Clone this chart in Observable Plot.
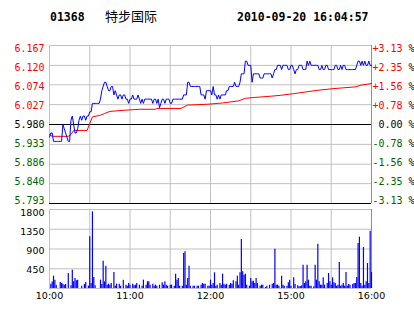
<!DOCTYPE html>
<html><head><meta charset="utf-8">
<script src="https://cdn.jsdelivr.net/npm/d3@7"></script>
<script src="https://cdn.jsdelivr.net/npm/@observablehq/plot@0.6"></script>
<style>
body{margin:0;background:#fff;}
#wrap{position:relative;width:414px;height:314px;overflow:hidden;background:#fff;}
.t{position:absolute;white-space:nowrap;color:#000;}
#code,#stamp{top:11px;font:bold 11.5px/12px "DejaVu Sans Mono",monospace;}
#code{left:50px;}
#stamp{left:237px;}
#name{left:105px;top:9px;font:13px/13px "Noto Sans CJK SC",sans-serif;}
svg{position:absolute;left:0;}
</style>
</head><body><div id="wrap">
<div class="t" id="code"></div><div class="t" id="name"></div><div class="t" id="stamp"></div>
</div>
<script>
const stockCode = "01368";
const stockName = "特步国际";
const stamp = "2010-09-20 16:04:57";
const prevClose = 5.98;
const priceTickLabels = ["5.793","5.840","5.886","5.933","5.980","6.027","6.074","6.120","6.167"];
const pctTickLabels = ["-3.13","-2.35","-1.56","-0.78","0.00","+0.78","+1.56","+2.35","+3.13"];
const volTickLabels = [450, 900, 1350, 1800];
const timeTickLabels = ["10:00","11:00","12:00","15:00","16:00"];
const timeTickMinutes = [0, 60, 120, 180, 240];
const gridMinutes = [0, 30, 60, 90, 120, 150, 180, 210, 240];

// last price per minute (minute 0..240)
const prices = [
5.95,5.96,5.96,5.94,5.94,5.94,5.94,5.94,5.94,5.94,
5.98,5.97,5.96,5.95,5.94,5.94,5.99,6.00,5.98,5.96,
5.96,5.97,5.99,6.00,5.99,6.00,6.00,5.99,6.00,6.00,
6.01,6.01,6.03,6.03,6.03,6.03,6.03,6.03,6.04,6.06,
6.07,6.08,6.08,6.07,6.06,6.06,6.07,6.07,6.05,6.06,
6.05,6.04,6.05,6.05,6.04,6.05,6.05,6.04,6.04,6.03,
6.04,6.04,6.05,6.04,6.04,6.04,6.05,6.04,6.03,6.04,
6.03,6.04,6.04,6.04,6.04,6.04,6.04,6.03,6.04,6.04,
6.03,6.04,6.02,6.03,6.04,6.04,6.03,6.04,6.04,6.04,
6.03,6.03,6.04,6.04,6.04,6.04,6.04,6.04,6.04,6.04,
6.05,6.05,6.05,6.08,6.08,6.07,6.07,6.07,6.07,6.07,
6.07,6.07,6.07,6.05,6.05,6.05,6.04,6.06,6.06,6.06,
6.06,6.05,6.07,6.05,6.05,6.04,6.05,6.04,6.05,6.05,
6.05,6.05,6.06,6.06,6.07,6.07,6.07,6.07,6.08,6.07,
6.07,6.07,6.08,6.10,6.10,6.10,6.13,6.13,6.12,6.12,
6.12,6.08,6.10,6.10,6.10,6.10,6.10,6.09,6.09,6.09,
6.10,6.10,6.10,6.10,6.10,6.10,6.09,6.10,6.11,6.11,
6.12,6.12,6.12,6.11,6.12,6.12,6.12,6.12,6.11,6.11,
6.12,6.12,6.11,6.10,6.11,6.11,6.12,6.12,6.12,6.11,
6.11,6.11,6.13,6.12,6.13,6.12,6.12,6.12,6.12,6.12,
6.12,6.11,6.11,6.12,6.11,6.11,6.12,6.12,6.11,6.11,
6.11,6.11,6.11,6.12,6.12,6.11,6.11,6.12,6.11,6.12,
6.12,6.11,6.11,6.11,6.11,6.11,6.11,6.11,6.11,6.12,
6.13,6.13,6.12,6.13,6.12,6.13,6.12,6.12,6.13,6.12,6.12
];

// average price line
const avgMinutes = [0,2,14,16,18,28,30,32,38,41,45,57,67,79,80,98,103,118,129,141,146,153,165,172,182,200,212,228,232,240];
const avgPrices  = [5.956,5.952,5.952,5.956,5.966,5.966,5.982,5.998,6.002,6.006,6.011,6.014,6.016,6.016,6.018,6.018,6.026,6.028,6.031,6.036,6.042,6.044,6.047,6.049,6.053,6.061,6.065,6.069,6.073,6.077];

// volume per minute
const volMinutes = [1,2,3,4,5,8,9,10,11,12,14,16,17,18,19,20,21,24,26,27,29,30,31,32,33,34,38,39,40,41,42,43,44,45,46,48,49,50,52,53,55,57,58,59,60,62,63,64,65,67,
69,70,72,73,74,75,77,78,79,80,82,84,85,86,87,88,90,91,93,94,95,96,97,99,100,101,102,103,104,105,107,108,110,111,113,114,115,116,118,119,120,121,122,123,124,125,127,128,129,130,131,132,134,135,136,137,139,140,141,142,143,144,145,146,147,149,150,151,152,153,154,155,157,158,159,161,162,164,166,167,168,169,170,171,173,174,175,177,178,179,
180,182,183,185,186,187,188,189,190,191,192,193,194,195,197,198,199,200,201,202,203,204,205,207,208,209,210,211,212,213,214,215,216,217,218,219,220,221,222,223,224,226,227,228,229,230,231,232,233,234,235,236,237,238,239,240];
const volValues = [98,150,281,190,76,137,114,99,76,91,342,61,418,152,228,175,190,53,91,137,53,1178,114,1745,251,61,190,91,623,152,509,76,99,76,114,365,53,99,99,53,190,76,53,114,76,99,61,76,114,76,
53,190,76,152,152,76,99,53,76,53,76,129,76,152,76,53,76,76,53,327,190,228,53,53,798,836,76,228,509,53,53,53,53,53,76,114,99,99,53,53,190,76,114,357,53,76,114,76,327,99,76,99,76,114,99,175,152,281,76,357,1117,380,304,327,76,53,228,152,167,114,228,114,53,76,76,23,53,76,99,114,896,76,76,53,281,76,53,53,129,190,
53,243,91,61,38,38,61,532,114,152,532,190,53,53,38,532,190,1011,152,76,76,243,76,114,342,152,76,243,129,114,53,76,593,53,76,114,53,365,53,91,76,91,114,114,251,1026,1170,114,53,935,76,152,570,114,1306,365];

document.getElementById("code").textContent = stockCode;
document.getElementById("name").textContent = stockName;
document.getElementById("stamp").textContent = stamp;

const GRID = "#c0c0c0";
const priceTicks = priceTickLabels.map(Number);
const labelColor = d => d > prevClose + 1e-9 ? "#ff0000" : (d < prevClose - 1e-9 ? "#006400" : "#000000");
const priceData = prices.map((p, i) => ({m: i, p}));
const avgData = avgMinutes.map((m, i) => ({m, p: avgPrices[i]}));
const volData = volMinutes.map((m, i) => ({m, v: volValues[i]}));

// labels are squeezed slightly inside the panel: offset shifts from +3 (top) to -2.7 (bottom)
const priceLabelMarks = priceTicks.flatMap((t, i) => {
  const dy = -2.7 + i * 0.71;
  const fill = labelColor(t);
  return [
    Plot.text([t], {y: d => d, text: () => priceTickLabels[i], frameAnchor: "left", textAnchor: "end", dx: -5, dy,
      fill, fontFamily: "DejaVu Sans Mono", fontSize: 10}),
    Plot.text([t], {y: d => d, text: () => pctTickLabels[i], frameAnchor: "right", textAnchor: "end", dx: 31, dy,
      fill, fontFamily: "DejaVu Sans Mono", fontSize: 10}),
    Plot.text([t], {y: d => d, text: () => "%", frameAnchor: "right", textAnchor: "start", dx: 37, dy,
      fill: "#000", fontFamily: "DejaVu Sans Mono", fontSize: 10})
  ];
});

const pricePlot = Plot.plot({
  width: 414, height: 171,
  marginTop: 10, marginBottom: 3, marginLeft: 49, marginRight: 43,
  x: {domain: [0, 240], axis: null},
  y: {domain: [priceTicks[0], priceTicks[priceTicks.length - 1]], axis: null},
  style: {background: "transparent", overflow: "visible"},
  marks: [
    Plot.ruleY(priceTicks, {stroke: GRID}),
    Plot.ruleX(gridMinutes, {stroke: GRID}),
    Plot.ruleX([240], {stroke: "#909090"}),
    Plot.ruleY([prevClose], {stroke: "#000"}),
    Plot.ruleY([priceTicks[0]], {stroke: "#000"}),
    Plot.line(avgData, {x: "m", y: "p", stroke: "#ff0000", strokeWidth: 1}),
    Plot.line(priceData, {x: "m", y: "p", stroke: "#0000ff", strokeWidth: 1}),
    ...priceLabelMarks
  ]
});
pricePlot.style.top = "35px";

const volLabelMarks = volTickLabels.map((t, i) =>
  Plot.text([t], {y: d => d, text: d => String(d), frameAnchor: "left", textAnchor: "end", dx: -5, dy: 1.3 + i * 0.7,
    fill: "#000", fontFamily: "DejaVu Sans", fontSize: 9.5}));

const volPlot = Plot.plot({
  width: 414, height: 108,
  marginTop: 3, marginBottom: 26, marginLeft: 49, marginRight: 43,
  x: {domain: [0, 240], axis: null},
  y: {domain: [0, 1800], axis: null},
  style: {background: "transparent", overflow: "visible"},
  marks: [
    Plot.ruleY([0, ...volTickLabels], {stroke: GRID}),
    Plot.ruleX(gridMinutes, {stroke: GRID}),
    Plot.ruleX([240], {stroke: "#909090"}),
    Plot.ruleX(volData, {x: "m", y1: 0, y2: "v", stroke: "#0000ff", strokeWidth: 1.2}),
    ...volLabelMarks,
    Plot.text(timeTickMinutes, {x: d => d, text: (d, i) => timeTickLabels[i], frameAnchor: "bottom", dy: 10,
      fill: "#000", fontFamily: "DejaVu Sans", fontSize: 9.5})
  ]
});
volPlot.style.top = "206px";

const wrap = document.getElementById("wrap");
wrap.appendChild(pricePlot);
wrap.appendChild(volPlot);
</script>
</body></html>
